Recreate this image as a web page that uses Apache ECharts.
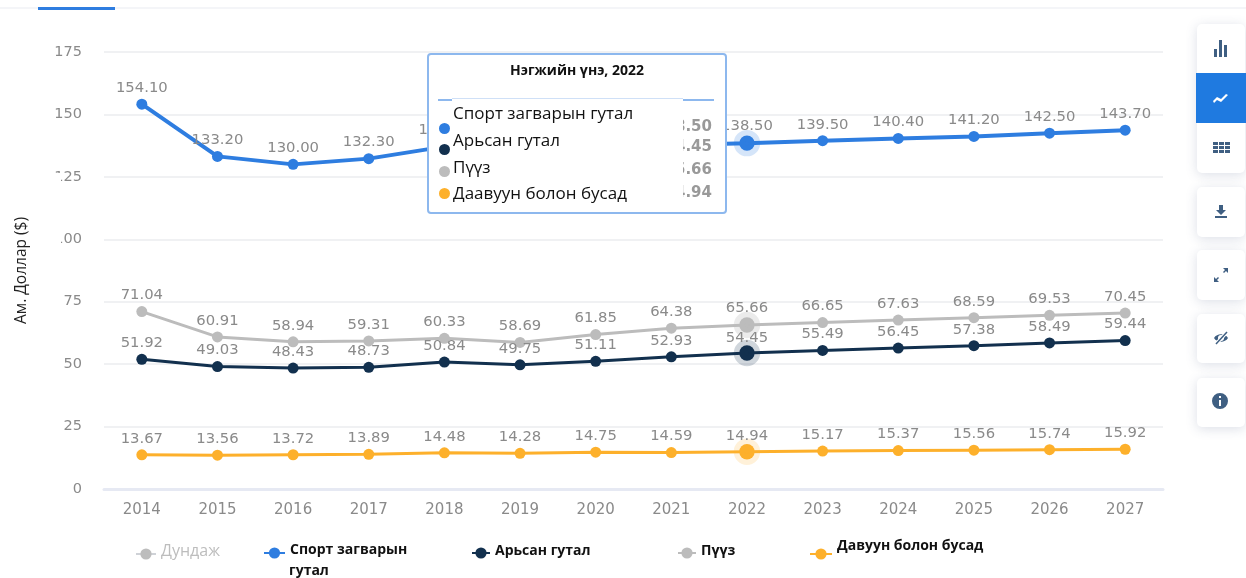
<!DOCTYPE html>
<html>
<head>
<meta charset="utf-8">
<style>
  html, body { margin: 0; padding: 0; background: #fff; }
  #chart { width: 1246px; height: 578px; }
</style>
<script src="https://cdn.jsdelivr.net/npm/echarts@6/dist/echarts.min.js"></script>
</head>
<body>
<div id="chart"></div>
<script>
const years = ['2014', '2015', '2016', '2017', '2018', '2019', '2020', '2021', '2022', '2023', '2024', '2025', '2026', '2027']
const sports = [154.10, 133.20, 130.00, 132.30, 137.10, 135.60, 136.90, 137.80, 138.50, 139.50, 140.40, 141.20, 142.50, 143.70]
const leather = [51.92, 49.03, 48.43, 48.73, 50.84, 49.75, 51.11, 52.93, 54.45, 55.49, 56.45, 57.38, 58.49, 59.44]
const sneakers = [71.04, 60.91, 58.94, 59.31, 60.33, 58.69, 61.85, 64.38, 65.66, 66.65, 67.63, 68.59, 69.53, 70.45]
const textile = [13.67, 13.56, 13.72, 13.89, 14.48, 14.28, 14.75, 14.59, 14.94, 15.17, 15.37, 15.56, 15.74, 15.92]

const FONT = '"Open Sans", sans-serif'
const LABEL_FONT = '"DejaVu Sans", sans-serif'
const activeIndex = 8

const chart = echarts.init(document.getElementById('chart'))

function lineSeries(name, values, color, halo, width, activeDistance) {
  return {
    name,
    type: 'line',
    data: values.map((v, i) => i === activeIndex
      ? {
          value: v,
          symbolSize: 14,
          // wide stroke from the centre out, the fill keeps the core solid
          itemStyle: { color, borderColor: halo, borderWidth: 11 },
          label: { distance: activeDistance },
        }
      : v),
    symbol: 'circle',
    symbolSize: 11,
    itemStyle: { color },
    lineStyle: { color, width },
    emphasis: { disabled: true },
    label: {
      show: true,
      position: 'top',
      distance: 3,
      color: '#8a8a8a',
      fontFamily: LABEL_FONT,
      fontSize: 14.8,
      formatter: (p) => p.value.toFixed(2),
    },
  }
}

// a blank second row lifts the legend text above its icon by shiftUp px
function legendAt(name, text, left, width, shiftUp, extra) {
  return Object.assign({
    data: [name],
    left,
    top: 546 - shiftUp,
    itemWidth: width,
    itemHeight: 14,
    itemGap: 0,
    padding: 0,
    selectedMode: false,
    formatter: () => text + '\n ',
    textStyle: {
      color: '#111',
      fontFamily: FONT,
      fontWeight: 'bold',
      fontSize: 14,
      lineHeight: shiftUp * 2,
    },
  }, extra)
}

// sidebar button with a soft shadow
function card(y, h) {
  return {
    type: 'rect',
    shape: { x: 1197, y, width: 48, height: h, r: 5 },
    style: { fill: '#fff', shadowBlur: 12, shadowColor: 'rgba(60,80,120,0.18)', shadowOffsetY: 2 },
    z: 10,
  }
}

// the graphic component has no plain path type, so icons get registered as shapes
function icon(name, pathData, x, y, fill) {
  echarts.graphic.registerShape(name, echarts.graphic.extendPath(pathData, {}))
  return { type: name, x, y, style: { fill: fill || '#3f5f82' }, z: 12 }
}

const decorations = [
  // tab strip on top
  { type: 'rect', shape: { x: 0, y: 7, width: 1246, height: 2 }, style: { fill: '#f4f5f8' }, z: 1 },
  { type: 'rect', shape: { x: 38, y: 7, width: 77, height: 3 }, style: { fill: '#2e7de0' }, z: 2 },
  // left edge of the tick labels is hidden in the original
  { type: 'rect', shape: { x: 40, y: 173, width: 21, height: 76 }, style: { fill: '#fff' }, z: 50 },
  // second row of the wrapped legend entry
  { type: 'text', x: 289, y: 564, style: { text: 'гутал', fill: '#111', font: 'bold 14px "Open Sans", sans-serif' }, z: 5 },
  card(24, 149),
  { type: 'rect', shape: { x: 1196, y: 73, width: 50, height: 50 }, style: { fill: '#1f7ae0' }, z: 11 },
  card(187, 50),
  card(250, 50),
  card(314, 49),
  card(378, 49),
  icon('iconBars', 'M0 9h3v8H0zM5 0h3v17H5zM10 5h3v12h-3z', 1214, 40),
  icon('iconLine', 'M0 8 L4 4 L8 6 L13 1 L15 2 L8 9 L4 7 L1 10 Z', 1213, 93, '#fff'),
  icon('iconTable', 'M0 0h5v3H0zM6 0h5v3H6zM12 0h5v3h-5zM0 4h5v3H0zM6 4h5v3H6zM12 4h5v3h-5zM0 8h5v3H0zM6 8h5v3H6zM12 8h5v3h-5z', 1213, 142),
  icon('iconDown', 'M4 0h4v5h3L6 10 1 5h3zM0 11h12v2H0z', 1215, 205),
  icon('iconExpand', 'M9 0h5v5L12 3 10 5 9 4 11 2zM0 14V9l2 2 2-2 1 1-2 2 2 2z', 1214, 268),
  icon('iconEye', 'M0 6C3 1 11 1 14 6 11 11 3 11 0 6ZM7 3a3 3 0 1 0 .01 0Z', 1214, 332),
  { type: 'line', shape: { x1: 1216, y1: 344, x2: 1227, y2: 332 }, style: { stroke: '#fff', lineWidth: 3.5 }, z: 13 },
  { type: 'line', shape: { x1: 1216, y1: 344, x2: 1227, y2: 332 }, style: { stroke: '#3f5f82', lineWidth: 1.5 }, z: 14 },
  icon('iconInfo', 'M0 8a8 8 0 1 1 16 0a8 8 0 1 1 -16 0ZM7 3v2h2V3ZM7 7v6h2V7Z', 1212, 393),
]

chart.setOption({
  animation: false,
  textStyle: { fontFamily: FONT },
  grid: { left: 104, right: 83, top: 52, bottom: 89 },
  xAxis: {
    type: 'category',
    data: years,
    axisLine: { lineStyle: { color: '#e6e9f3', width: 3 } },
    axisTick: { show: false },
    axisLabel: { color: '#8a8a8a', fontFamily: LABEL_FONT, fontSize: 15, margin: 14 },
  },
  yAxis: {
    type: 'value',
    min: 0,
    max: 175,
    interval: 25,
    name: 'Ам. Доллар ($)',
    nameLocation: 'middle',
    nameGap: 74,
    nameTextStyle: { color: '#222', fontFamily: FONT, fontSize: 15.5 },
    axisLine: { show: false },
    axisTick: { show: false },
    axisLabel: { color: '#8a8a8a', fontFamily: LABEL_FONT, fontSize: 14.5, margin: 22, padding: [3, 0, 0, 0] },
    splitLine: { lineStyle: { color: '#f0f1f3', width: 2 } },
  },
  legend: [
    legendAt('Дундаж', 'Дундаж', 135, 20, 3, {
      selected: { 'Дундаж': false },
      inactiveColor: '#bdbdbd',
      textStyle: { fontFamily: FONT, fontSize: 16, color: '#9a9a9a', lineHeight: 6 },
    }),
    legendAt('Спорт загварын гутал', 'Спорт загварын', 263, 21, 3),
    legendAt('Арьсан гутал', 'Арьсан гутал', 471, 18, 2),
    legendAt('Пүүз', 'Пүүз', 677, 18, 2),
    legendAt('Даавуун болон бусад', 'Давуун болон бусад', 809, 22, 8),
  ],
  tooltip: {
    trigger: 'axis',
    alwaysShowContent: true,
    transitionDuration: 0,
    axisPointer: { type: 'none' },
    position: [427, 53],
    padding: 0,
    borderWidth: 0,
    backgroundColor: 'transparent',
    extraCssText: 'box-shadow:none;',
    formatter: (params) => {
      const rows = params.map((p, i) => {
        const dotTop = [68, 89, 111, 133][i]
        const nameTop = [46, 73, 100, 126][i]
        const valueTop = [62, 82, 105, 128][i]
        return `<div style="position:absolute;left:10px;top:${dotTop}px;width:11px;height:11px;border-radius:50%;background:${p.color}"></div>`
          + `<div style="position:absolute;right:13px;top:${valueTop}px;font:bold 15px 'DejaVu Sans',sans-serif;color:#999;line-height:18px">${p.value.toFixed(2)}</div>`
          + `<div style="position:absolute;left:24px;top:${nameTop}px;font:17px 'Open Sans',sans-serif;color:#111;line-height:24px;z-index:3">${p.seriesName}</div>`
      }).join('')
      return `<div style="position:relative;box-sizing:border-box;width:300px;height:161px;background:#fff;border:2px solid #8db8ee;border-radius:4px;">`
        + `<div style="position:absolute;left:0;right:0;top:5px;text-align:center;font:bold 14px 'Open Sans',sans-serif;color:#111;line-height:20px">Нэгжийн үнэ, ${params[0].axisValue}</div>`
        + `<div style="position:absolute;left:9px;width:276px;top:44px;height:2px;background:#8db8ee"></div>`
        + rows
        + `<div style="position:absolute;left:23px;width:231px;top:43px;bottom:6px;background:#fff;z-index:2;border-top:1px solid #cfe0f7"></div>`
        + `</div>`
    },
  },
  graphic: decorations,
  series: [
    { name: 'Дундаж', type: 'line', data: [], symbol: 'circle', symbolSize: 11, itemStyle: { color: '#c4c4c4' }, lineStyle: { color: '#c4c4c4' } },
    lineSeries('Спорт загварын гутал', sports, '#2e7de0', 'rgba(46,125,224,0.2)', 4, -4),
    lineSeries('Арьсан гутал', leather, '#12304e', 'rgba(18,48,78,0.2)', 3, -6),
    lineSeries('Пүүз', sneakers, '#bcbcbc', 'rgba(188,188,188,0.3)', 3, -4),
    lineSeries('Даавуун болон бусад', textile, '#fdb02b', 'rgba(253,176,43,0.18)', 3, -5),
  ],
})

chart.dispatchAction({ type: 'showTip', seriesIndex: 1, dataIndex: activeIndex })
</script>
</body>
</html>
